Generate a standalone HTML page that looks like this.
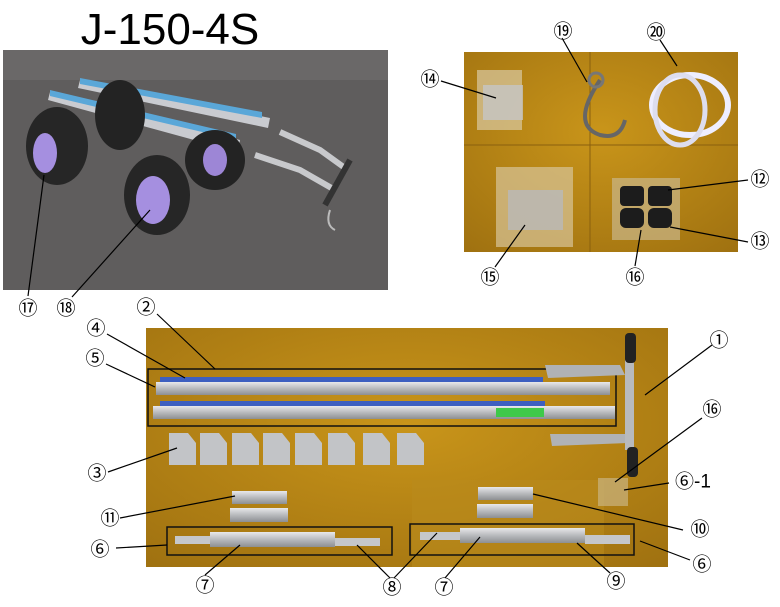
<!DOCTYPE html>
<html><head><meta charset="utf-8"><style>
body{margin:0;background:#fff;width:780px;height:607px;overflow:hidden}
svg{display:block}
text{font-family:"Liberation Sans","Noto Sans CJK JP",sans-serif;fill:#000}
.n{font-size:19px;text-anchor:middle;dominant-baseline:central}
</style></head><body>
<svg width="780" height="607" viewBox="0 0 780 607">
<defs>
<linearGradient id="al" x1="0" y1="0" x2="0" y2="1"><stop offset="0" stop-color="#e8e8ea"/><stop offset=".5" stop-color="#b8babd"/><stop offset="1" stop-color="#8d8f92"/></linearGradient>
<radialGradient id="gold" cx=".5" cy=".4" r=".8"><stop offset="0" stop-color="#c9951a"/><stop offset="1" stop-color="#9e7010"/></radialGradient>
</defs>
<text x="170" y="44" font-size="44" text-anchor="middle" style="font-family:'Liberation Sans',sans-serif">J-150-4S</text>

<!-- top-left photo -->
<rect x="3" y="50" width="385" height="240" fill="#5f5d5d"/>
<rect x="3" y="50" width="385" height="30" fill="#6a6868"/>
<polygon points="80,80 270,118 268,128 78,88" fill="#c9cbd0"/>
<polygon points="80,78 262,112 262,118 80,84" fill="#5aa7d8"/>
<polygon points="50,92 240,140 238,152 48,100" fill="#c9cbd0"/>
<polygon points="50,90 236,134 236,140 50,96" fill="#5aa7d8"/>
<path d="M280,132 L320,150 L345,168" stroke="#c8c9cc" stroke-width="6" fill="none"/>
<path d="M255,155 L300,170 L335,190" stroke="#c8c9cc" stroke-width="6" fill="none"/>
<line x1="350" y1="160" x2="325" y2="205" stroke="#333" stroke-width="6"/>
<ellipse cx="120" cy="115" rx="25" ry="35" fill="#232323"/>
<ellipse cx="215" cy="160" rx="30" ry="30" fill="#232323"/>
<ellipse cx="215" cy="160" rx="12" ry="16" fill="#9d86d6"/>
<ellipse cx="57" cy="146" rx="31" ry="39" fill="#262626"/>
<ellipse cx="45" cy="153" rx="12" ry="20" fill="#a58fe0"/>
<ellipse cx="157" cy="195" rx="33" ry="40" fill="#262626"/>
<ellipse cx="153" cy="200" rx="17" ry="24" fill="#a58fe0"/>
<path d="M330,210 q-5,15 5,20" stroke="#bbb" fill="none" stroke-width="2"/>

<!-- top-right photo -->
<rect x="464" y="52" width="274" height="200" fill="url(#gold)"/>
<line x1="464" y1="145" x2="738" y2="145" stroke="#8a600e" stroke-width="1"/>
<line x1="590" y1="52" x2="590" y2="252" stroke="#8a600e" stroke-width="1"/>
<rect x="477" y="70" width="45" height="60" fill="#d9c9a2" opacity=".7"/>
<rect x="483" y="85" width="40" height="35" fill="#c6c6c6" opacity=".8"/>
<path d="M600,80 q-30,45 0,55 q20,5 25,-15" stroke="#666" stroke-width="4" fill="none"/>
<circle cx="596" cy="80" r="7" fill="none" stroke="#777" stroke-width="3"/>
<ellipse cx="690" cy="105" rx="38" ry="30" stroke="#eef" stroke-width="6" fill="none"/>
<ellipse cx="680" cy="110" rx="25" ry="35" stroke="#dde" stroke-width="5" fill="none"/>
<rect x="496" y="167" width="77" height="80" fill="#d7c49a" opacity=".7"/>
<rect x="508" y="190" width="55" height="40" fill="#b9b9b9" opacity=".8"/>
<rect x="612" y="178" width="68" height="62" fill="#c9b68a" opacity=".7"/>
<rect x="620" y="186" width="24" height="20" rx="4" fill="#1c1c1c"/>
<rect x="648" y="186" width="24" height="20" rx="4" fill="#1c1c1c"/>
<rect x="620" y="208" width="24" height="20" rx="6" fill="#1c1c1c"/>
<rect x="648" y="208" width="24" height="20" rx="6" fill="#1c1c1c"/>

<!-- bottom photo -->
<rect x="146" y="328" width="522" height="239" fill="url(#gold)"/>
<rect x="412" y="480" width="192" height="87" fill="#b98a1c" opacity=".6"/>
<rect x="148" y="369" width="468" height="57" fill="none" stroke="#111" stroke-width="1.5"/>
<rect x="160" y="377" width="383" height="5" fill="#3d5fc0"/>
<rect x="156" y="382" width="454" height="13" fill="url(#al)"/>
<rect x="160" y="401" width="385" height="5" fill="#3d5fc0"/>
<rect x="153" y="406" width="462" height="13" fill="url(#al)"/>
<rect x="496" y="408" width="48" height="9" fill="#3fc94a"/>
<path d="M545,365 L620,365 L625,375 L548,378 Z" fill="#b0b2b5"/>
<path d="M550,434 L625,434 L628,443 L552,446 Z" fill="#b0b2b5"/>
<rect x="625" y="360" width="9" height="90" fill="#b8babd"/>
<rect x="625" y="333" width="11" height="30" rx="4" fill="#222"/>
<rect x="627" y="447" width="11" height="30" rx="4" fill="#222"/>
<g fill="#c2c4c7">
<path d="M169,433 h19 l8,10 v22 h-27z"/><path d="M200,433 h19 l8,10 v22 h-27z"/><path d="M232,433 h19 l8,10 v22 h-27z"/><path d="M263,433 h19 l8,10 v22 h-27z"/>
<path d="M295,433 h19 l8,10 v22 h-27z"/><path d="M328,433 h19 l8,10 v22 h-27z"/><path d="M363,433 h19 l8,10 v22 h-27z"/><path d="M397,433 h19 l8,10 v22 h-27z"/>
</g>
<rect x="232" y="491" width="55" height="13" fill="url(#al)"/>
<rect x="230" y="508" width="58" height="14" fill="url(#al)"/>
<rect x="478" y="487" width="55" height="13" fill="url(#al)"/>
<rect x="477" y="504" width="56" height="14" fill="url(#al)"/>
<rect x="598" y="478" width="30" height="28" fill="#c9b380" opacity=".7"/>
<rect x="167" y="527" width="225" height="28" fill="none" stroke="#111" stroke-width="1.5"/>
<rect x="410" y="524" width="224" height="31" fill="none" stroke="#111" stroke-width="1.5"/>
<rect x="175" y="536" width="35" height="8" fill="#c5c7ca"/><rect x="210" y="532" width="125" height="15" fill="url(#al)"/><rect x="335" y="538" width="45" height="8" fill="#c5c7ca"/>
<rect x="420" y="532" width="40" height="8" fill="#c5c7ca"/><rect x="460" y="528" width="125" height="15" fill="url(#al)"/><rect x="585" y="535" width="45" height="9" fill="#c5c7ca"/>

<!-- leader lines -->
<g stroke="#000" stroke-width="1.2" fill="none">
<line x1="28" y1="296" x2="44" y2="175"/><line x1="72" y1="297" x2="150" y2="210"/>
<line x1="441" y1="81" x2="496" y2="98"/><line x1="562" y1="38" x2="587" y2="82"/><line x1="660" y1="40" x2="677" y2="66"/>
<line x1="748" y1="180" x2="668" y2="190"/><line x1="748" y1="242" x2="670" y2="227"/>
<line x1="495" y1="267" x2="525" y2="225"/><line x1="635" y1="266" x2="641" y2="230"/>
<line x1="157" y1="314" x2="215" y2="369"/><line x1="107" y1="334" x2="185" y2="378"/><line x1="106" y1="364" x2="155" y2="387"/>
<line x1="712" y1="345" x2="645" y2="395"/><line x1="702" y1="418" x2="615" y2="482"/><line x1="669" y1="483" x2="624" y2="490"/>
<line x1="108" y1="472" x2="177" y2="448"/>
<line x1="120" y1="518" x2="235" y2="496"/><line x1="683" y1="530" x2="533" y2="494"/>
<line x1="116" y1="548" x2="167" y2="545"/><line x1="205" y1="575" x2="240" y2="545"/><line x1="390" y1="578" x2="357" y2="545"/>
<line x1="394" y1="578" x2="437" y2="533"/><line x1="445" y1="578" x2="480" y2="537"/><line x1="610" y1="573" x2="577" y2="543"/>
<line x1="690" y1="560" x2="640" y2="541"/>
</g>

<g>
<text class="n" x="28" y="309">⑰</text><text class="n" x="66" y="309">⑱</text><text class="n" x="146" y="308">②</text>
<text class="n" x="563" y="32">⑲</text><text class="n" x="656" y="33">⑳</text><text class="n" x="430" y="80">⑭</text>
<text class="n" x="760" y="180">⑫</text><text class="n" x="760" y="242">⑬</text><text class="n" x="490" y="278">⑮</text><text class="n" x="635" y="278">⑯</text>
<text class="n" x="96" y="329">④</text><text class="n" x="95" y="359">⑤</text>
<text class="n" x="719" y="341">①</text><text class="n" x="712" y="410">⑯</text>
<text class="n" x="97" y="474">③</text><text class="n" x="110" y="519">⑪</text>
<text class="n" x="693" y="482">⑥-1</text><text class="n" x="700" y="530">⑩</text>
<text class="n" x="100" y="550">⑥</text><text class="n" x="205" y="586">⑦</text><text class="n" x="392" y="588">⑧</text>
<text class="n" x="444" y="588">⑦</text><text class="n" x="616" y="582">⑨</text><text class="n" x="702" y="565">⑥</text>
</g>
</svg>
</body></html>
